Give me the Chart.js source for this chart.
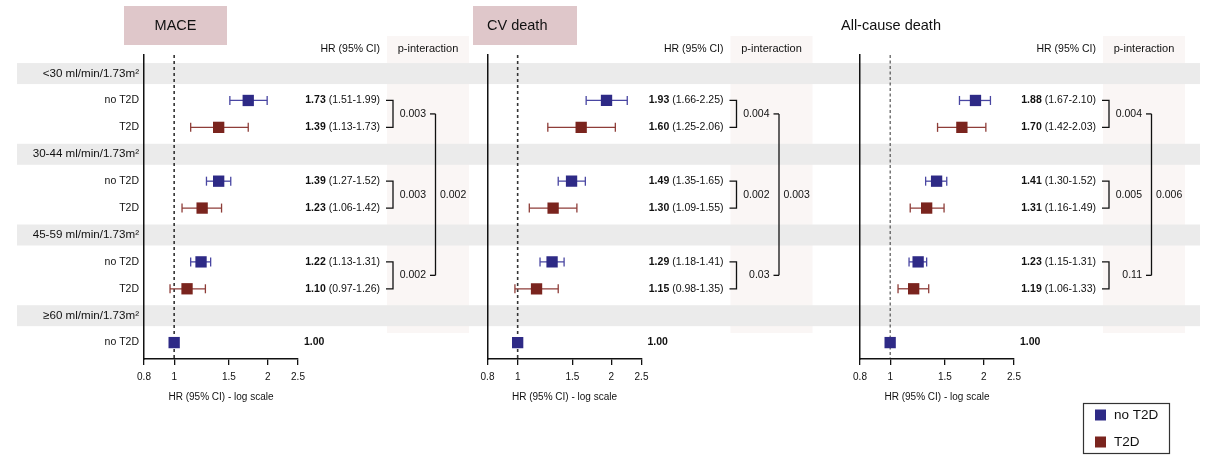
<!DOCTYPE html>
<html>
<head>
<meta charset="utf-8">
<script src="https://cdn.jsdelivr.net/npm/chart.js@4.4.1/dist/chart.umd.min.js"></script>
<style>
  body { margin: 0; background: #fff; width: 1210px; height: 458px; overflow: hidden; position: relative; }
  canvas { position: absolute; top: 0; }
</style>
</head>
<body>
<canvas id="c1" width="470" height="458" style="left:0px"></canvas>
<canvas id="c2" width="368" height="458" style="left:470px"></canvas>
<canvas id="c3" width="372" height="458" style="left:838px"></canvas>
<script>
// rows from top to bottom
const rowLabels = ['<30 ml/min/1.73m²', 'no T2D', 'T2D', '30-44 ml/min/1.73m²', 'no T2D', 'T2D',
                   '45-59 ml/min/1.73m²', 'no T2D', 'T2D', '≥60 ml/min/1.73m²', 'no T2D'];
const bandRows = [0, 3, 6, 9];
const pointRows = [1, 2, 4, 5, 7, 8, 10];
const pointGroup = ['no T2D', 'T2D', 'no T2D', 'T2D', 'no T2D', 'T2D', 'no T2D'];
const pairRows = [[1, 2], [4, 5], [7, 8]];
const groups = ['no T2D', 'T2D'];
const tickValues = [0.8, 1, 1.5, 2, 2.5];

const maceHR = [1.73, 1.39, 1.39, 1.23, 1.22, 1.10, 1.00];
const maceLo = [1.51, 1.13, 1.27, 1.06, 1.13, 0.97, null];
const maceHi = [1.99, 1.73, 1.52, 1.42, 1.31, 1.26, null];
const maceP = ['0.003', '0.003', '0.002'];
const macePAll = '0.002';

const cvHR = [1.93, 1.60, 1.49, 1.30, 1.29, 1.15, 1.00];
const cvLo = [1.66, 1.25, 1.35, 1.09, 1.18, 0.98, null];
const cvHi = [2.25, 2.06, 1.65, 1.55, 1.41, 1.35, null];
const cvP = ['0.004', '0.002', '0.03'];
const cvPAll = '0.003';

const acHR = [1.88, 1.70, 1.41, 1.31, 1.23, 1.19, 1.00];
const acLo = [1.67, 1.42, 1.30, 1.16, 1.15, 1.06, null];
const acHi = [2.10, 2.03, 1.52, 1.49, 1.31, 1.33, null];
const acP = ['0.004', '0.005', '0.11'];
const acPAll = '0.006';

const FONT = '"Liberation Sans", Arial, Helvetica, sans-serif';
const markColor = { 'no T2D': '#2e2a86', 'T2D': '#7a241e' };
const barColor = { 'no T2D': '#4946a2', 'T2D': '#8e3d38' };

const panels = [
  { id: 'c1', title: 'MACE', hr: maceHR, lo: maceLo, hi: maceHi, p: maceP, pAll: macePAll,
    axisLeft: 144, width: 470, bandFrom: 17, bandTo: 470, rowText: true,
    titleBox: [124, 6, 103, 39], titleAlign: 'center', titleX: 175.5, dash: [3, 3], dashW: 1.6 },
  { id: 'c2', title: 'CV death', hr: cvHR, lo: cvLo, hi: cvHi, p: cvP, pAll: cvPAll,
    axisLeft: 17.5, width: 368, bandFrom: 0, bandTo: 368, rowText: false,
    titleBox: [3, 6, 104, 39], titleAlign: 'left', titleX: 17, dash: [3, 3], dashW: 1.6 },
  { id: 'c3', title: 'All-cause death', hr: acHR, lo: acLo, hi: acHi, p: acP, pAll: acPAll,
    axisLeft: 22, width: 372, bandFrom: 0, bandTo: 362, rowText: false, legend: true,
    titleBox: null, titleAlign: 'left', titleX: 3, dash: [3, 2.5], dashW: 1 }
];

function text(ctx, s, x, y, size, align, weight) {
  ctx.font = (weight || '') + ' ' + size + 'px ' + FONT;
  ctx.textAlign = align;
  ctx.textBaseline = 'middle';
  ctx.fillText(s, x, y);
}

function forestPlugin(p) {
  return {
    id: 'forest_' + p.id,
    beforeDraw(chart) {
      const { ctx, chartArea: a, scales: { x, y } } = chart;
      const L = a.left;
      ctx.save();
      if (p.titleBox) {
        ctx.fillStyle = '#dfc7ca';
        ctx.fillRect(...p.titleBox);
      }
      // p-interaction column
      ctx.fillStyle = '#faf6f5';
      ctx.fillRect(L + 243, 36, 82, 297);
      // grey bands for eGFR groups
      ctx.fillStyle = '#ebebeb';
      bandRows.forEach(r => {
        const t = y.getPixelForValue(r - 0.39), b = y.getPixelForValue(r + 0.39);
        ctx.fillRect(p.bandFrom, t, p.bandTo - p.bandFrom, b - t);
      });
      // reference line HR = 1
      const x1 = x.getPixelForValue(1);
      ctx.strokeStyle = '#333';
      ctx.lineWidth = p.dashW;
      ctx.setLineDash(p.dash);
      ctx.beginPath();
      ctx.moveTo(x1, a.top);
      ctx.lineTo(x1, a.bottom);
      ctx.stroke();
      ctx.restore();
    },
    afterDraw(chart) {
      const { ctx, chartArea: a, scales: { y } } = chart;
      const L = a.left;
      ctx.save();
      ctx.fillStyle = '#111';
      text(ctx, p.title, p.titleX, 26, 14.5, p.titleAlign);
      text(ctx, 'HR (95% CI)', L + 236, 49, 10.5, 'right');
      text(ctx, 'p-interaction', L + 284, 49, 11, 'center');
      text(ctx, 'HR (95% CI) - log scale', (a.left + a.right) / 2, 397, 10, 'center');

      if (p.rowText) {
        rowLabels.forEach((lab, i) => {
          const band = bandRows.includes(i);
          text(ctx, lab, L - 5, y.getPixelForValue(i), band ? 11.6 : 10.5, 'right');
        });
      }

      // HR (95% CI) text
      p.hr.forEach((v, i) => {
        const yy = y.getPixelForValue(pointRows[i]);
        const bold = v.toFixed(2);
        if (p.lo[i] == null) {
          text(ctx, bold, L + 160, yy, 10.5, 'left', 'bold');
          return;
        }
        const rest = ' (' + p.lo[i].toFixed(2) + '-' + p.hi[i].toFixed(2) + ')';
        ctx.font = '10.5px ' + FONT;
        const wr = ctx.measureText(rest).width;
        text(ctx, rest, L + 236, yy, 10.5, 'right');
        text(ctx, bold, L + 236 - wr, yy, 10.5, 'right', 'bold');
      });

      // interaction brackets
      ctx.strokeStyle = '#111';
      ctx.lineWidth = 1.3;
      const mids = [];
      pairRows.forEach((pr, k) => {
        const t = y.getPixelForValue(pr[0]), b = y.getPixelForValue(pr[1]);
        const m = (t + b) / 2;
        mids.push(m);
        ctx.beginPath();
        ctx.moveTo(L + 242, t);
        ctx.lineTo(L + 249, t);
        ctx.lineTo(L + 249, b);
        ctx.lineTo(L + 242, b);
        ctx.stroke();
        text(ctx, p.p[k], L + 282, m, 10.5, 'right');
        if (k !== 1) {
          ctx.beginPath();
          ctx.moveTo(L + 286, m);
          ctx.lineTo(L + 291.5, m);
          ctx.stroke();
        }
      });
      ctx.beginPath();
      ctx.moveTo(L + 291.5, mids[0]);
      ctx.lineTo(L + 291.5, mids[2]);
      ctx.stroke();
      text(ctx, p.pAll, L + 296, mids[1], 10.5, 'left');

      if (p.legend) {
        ctx.strokeStyle = '#333';
        ctx.lineWidth = 1.2;
        ctx.strokeRect(245.5, 403.5, 86, 50);
        groups.forEach((g, k) => {
          const cy = 415 + k * 27;
          ctx.fillStyle = markColor[g];
          ctx.fillRect(257, cy - 5.5, 11, 11);
          ctx.fillStyle = '#111';
          text(ctx, g, 276, cy, 13.5, 'left');
        });
      }
      ctx.restore();
    }
  };
}

panels.forEach(p => {
  const datasets = [];
  // confidence intervals
  p.hr.forEach((v, i) => {
    if (p.lo[i] == null) return;
    const g = pointGroup[i];
    datasets.push({
      data: [{ x: p.lo[i], y: pointRows[i] }, { x: p.hi[i], y: pointRows[i] }],
      showLine: true,
      borderColor: barColor[g],
      borderWidth: 1.3,
      pointStyle: 'line',
      rotation: 90,
      pointRadius: 4.5,
      pointBorderColor: barColor[g],
      pointBorderWidth: 1.3,
      order: 2
    });
  });
  // hazard ratio squares
  groups.forEach(g => {
    datasets.push({
      label: g,
      data: p.hr.map((v, i) => ({ x: v, y: pointRows[i], g: pointGroup[i] })).filter(d => d.g === g),
      pointStyle: 'rect',
      pointRadius: 8,
      backgroundColor: markColor[g],
      borderColor: markColor[g],
      borderWidth: 0,
      order: 0
    });
  });

  new Chart(document.getElementById(p.id), {
    type: 'scatter',
    data: { datasets },
    plugins: [forestPlugin(p)],
    options: {
      responsive: false,
      animation: false,
      events: [],
      layout: { padding: { top: 55, left: 0, bottom: 0, right: p.width - p.axisLeft - 154 } },
      plugins: { legend: { display: false }, tooltip: { enabled: false } },
      scales: {
        x: {
          type: 'logarithmic',
          min: 0.8,
          max: 2.5,
          afterBuildTicks: s => { s.ticks = tickValues.map(v => ({ value: v })); },
          afterFit: s => { s.height = 99; },
          ticks: { autoSkip: false, maxRotation: 0, padding: 6, color: '#111',
                   font: { family: FONT, size: 10 }, callback: v => String(v) },
          grid: { display: true, drawOnChartArea: false, drawTicks: true, tickLength: 6, color: '#111', lineWidth: 1.3 },
          border: { display: true, color: '#111', width: 1.5 }
        },
        y: {
          type: 'linear',
          reverse: true,
          min: -0.69,
          max: 10.61,
          afterFit: s => { s.width = p.axisLeft; },
          ticks: { display: false },
          grid: { display: false },
          border: { display: true, color: '#111', width: 1.5 }
        }
      }
    }
  });
});
</script>
</body>
</html>
